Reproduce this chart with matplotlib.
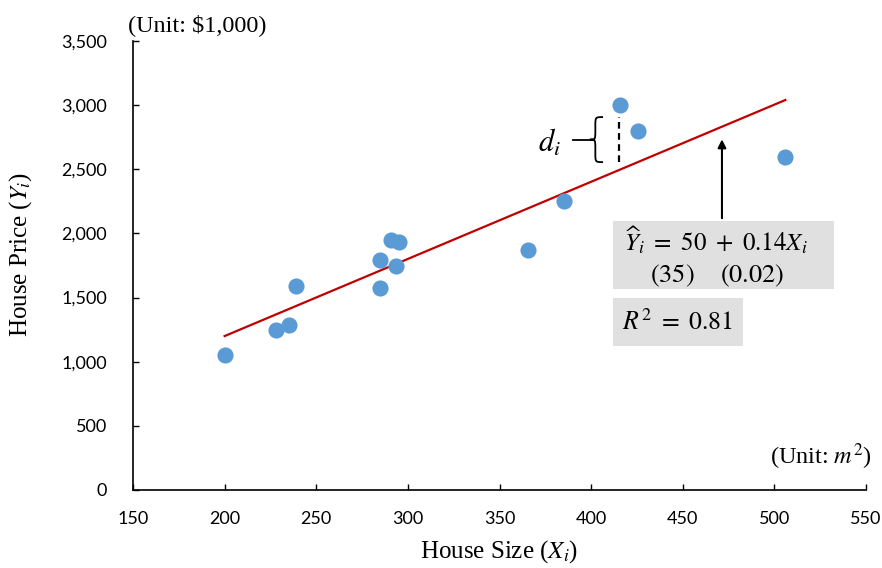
import matplotlib
matplotlib.use("Agg")
import matplotlib.pyplot as plt
from matplotlib.patches import Rectangle, PathPatch
from matplotlib.path import Path

plt.rcParams['mathtext.fontset'] = 'stix'

# data
house_size = [200, 228, 235, 239, 285, 285, 291, 295, 293.5, 365.5, 385, 416, 425.5, 506]
house_price = [1050, 1250, 1290, 1590, 1575, 1790, 1950, 1935, 1750, 1870, 2250, 3000, 2800, 2595]
fit_x = [200, 506]
fit_y = [1200, 3040]
x_ticks = [150, 200, 250, 300, 350, 400, 450, 500, 550]
y_ticks = [0, 500, 1000, 1500, 2000, 2500, 3000, 3500]

serif = 'Liberation Serif'
tick_font = 'Lato'

fig = plt.figure(figsize=(8.82, 5.68), dpi=100)
ax = fig.add_axes([133 / 882, 78 / 568, 733 / 882, 449 / 568])

ax.scatter(house_size, house_price, s=135, color='#5B9BD5', zorder=3, linewidths=0)
ax.plot(fit_x, fit_y, color='#C00000', lw=1.6, zorder=2)

ax.set_xlim(150, 550)
ax.set_ylim(0, 3500)
ax.set_xticks(x_ticks)
ax.set_yticks(y_ticks)
ax.set_yticklabels([f'{v:,}' for v in y_ticks])
ax.tick_params(direction='in', length=4, width=1, labelsize=13)
ax.tick_params(axis='x', pad=15)
ax.tick_params(axis='y', pad=18.5)
for lab in ax.get_xticklabels() + ax.get_yticklabels():
    lab.set_fontfamily(tick_font)
for s in ['top', 'right']:
    ax.spines[s].set_visible(False)
for s in ['left', 'bottom']:
    ax.spines[s].set_linewidth(1.2)

ax.set_xlabel('House Size ($X_i$)', fontfamily=serif, fontsize=18, labelpad=8)
ax.set_ylabel('House Price ($Y_i$)', fontfamily=serif, fontsize=18, labelpad=17)
ax.yaxis.set_label_coords(-0.135, 0.525)
ax.text(-0.007, 1.01, '(Unit: $1,000)', transform=ax.transAxes, fontfamily=serif,
        fontsize=17.5, ha='left', va='bottom')
ax.text(1.007, 0.04, '(Unit: $m^2$)', transform=ax.transAxes, fontfamily=serif,
        fontsize=17.5, ha='right', va='bottom')

# residual marker d_i
ax.plot([415.2, 415.2], [2556, 2907], color='black', lw=1.6, ls=(0, (3, 2)), zorder=2)
xl, xm, xr = 399.3, 402.3, 406.5
yt, yb = 2907, 2556
ym = (yt + yb) / 2
r = 70
verts = [(xr, yt), (xm, yt), (xm, yt), (xm, yt - r),
         (xm, ym + r),
         (xm, ym), (xm, ym), (xl, ym),
         (xm, ym), (xm, ym), (xm, ym - r),
         (xm, yb + r),
         (xm, yb), (xm, yb), (xr, yb)]
codes = [Path.MOVETO, Path.CURVE4, Path.CURVE4, Path.CURVE4,
         Path.LINETO,
         Path.CURVE4, Path.CURVE4, Path.CURVE4,
         Path.CURVE4, Path.CURVE4, Path.CURVE4,
         Path.LINETO,
         Path.CURVE4, Path.CURVE4, Path.CURVE4]
ax.add_patch(PathPatch(Path(verts, codes), fill=False, lw=1.3, color='black'))
ax.plot([390, xl], [ym, ym], color='black', lw=1.3)
ax.text(377, 2712, '$d_i$', fontsize=22, ha='center', va='center')

# arrow to the fitted line
ax.annotate('', xy=(471.4, 2755), xytext=(471.4, 2097),
            arrowprops=dict(arrowstyle='-|>', color='black', lw=1.5, mutation_scale=12))

# equation boxes
ax.add_patch(Rectangle((411.9, 1567), 120.6, 530, color='#E0E0E0', zorder=1, lw=0))
ax.add_patch(Rectangle((411.9, 1122), 71, 374, color='#E0E0E0', zorder=1, lw=0))
ax.text(468, 1950, r'$\widehat{Y}_i\ =\ 50\ +\ 0.14X_i$', fontsize=18, ha='center', va='center')
ax.text(444.5, 1672, '$(35)$', fontsize=19, ha='center', va='center')
ax.text(488, 1672, '$(0.02)$', fontsize=19, ha='center', va='center')
ax.text(447, 1300, '$R^2\\ =\\ 0.81$', fontsize=18.5, ha='center', va='center')

fig.savefig('out.png', dpi=100)
